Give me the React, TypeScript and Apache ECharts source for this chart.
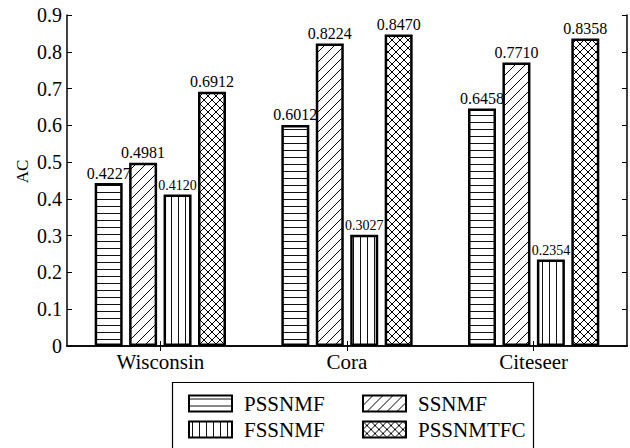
import React, { useEffect, useRef } from "react";
import * as echarts from "echarts";

const categories = ["Wisconsin", "Cora", "Citeseer"];
const seriesNames = ["PSSNMF", "SSNMF", "FSSNMF", "PSSNMTFC"];
// bar heights as drawn in the picture
const pssnmf = [0.443, 0.6012, 0.6458];
const ssnmf = [0.4981, 0.8224, 0.771];
const fssnmf = [0.412, 0.3027, 0.2354];
const pssnmtfc = [0.6912, 0.847, 0.8358];
// printed labels above bars
const pssnmfLabels = ["0.4227", "0.6012", "0.6458"];
const ssnmfLabels = ["0.4981", "0.8224", "0.7710"];
const fssnmfLabels = ["0.4120", "0.3027", "0.2354"];
const pssnmtfcLabels = ["0.6912", "0.8470", "0.8358"];
const yTicks = [0, 0.1, 0.2, 0.3, 0.4, 0.5, 0.6, 0.7, 0.8, 0.9];

const FONT = "'Liberation Serif', 'Times New Roman', serif";

function makePattern(kind: string): HTMLCanvasElement {
  const c = document.createElement("canvas");
  let w = 8, h = 8;
  if (kind === "h") { w = 8; h = 7; }
  if (kind === "v") { w = 7; h = 8; }
  if (kind === "d") { w = 10; h = 10; }
  if (kind === "x") { w = 8; h = 8; }
  c.width = w; c.height = h;
  const ctx = c.getContext("2d")!;
  ctx.fillStyle = "#fff";
  ctx.fillRect(0, 0, w, h);
  ctx.strokeStyle = "#000";
  ctx.fillStyle = "#111";
  if (kind === "h") {
    ctx.fillRect(0, 3, w, 1);
  } else if (kind === "v") {
    ctx.fillRect(3, 0, 1, h);
  } else if (kind === "d") {
    ctx.lineWidth = 1;
    ctx.beginPath();
    ctx.moveTo(-2, w + 2); ctx.lineTo(w + 2, -2);
    ctx.moveTo(-2, 2); ctx.lineTo(2, -2);
    ctx.moveTo(w - 2, w + 2); ctx.lineTo(w + 2, w - 2);
    ctx.stroke();
  } else {
    ctx.lineWidth = 1;
    ctx.beginPath();
    ctx.moveTo(-2, w + 2); ctx.lineTo(w + 2, -2);
    ctx.moveTo(-2, 2); ctx.lineTo(2, -2);
    ctx.moveTo(w - 2, w + 2); ctx.lineTo(w + 2, w - 2);
    ctx.moveTo(-2, -2); ctx.lineTo(w + 2, w + 2);
    ctx.moveTo(-2, w - 2); ctx.lineTo(2, w + 2);
    ctx.moveTo(w - 2, -2); ctx.lineTo(w + 2, 2);
    ctx.stroke();
  }
  return c;
}

export default function App() {
  const ref = useRef<HTMLDivElement>(null);
  useEffect(() => {
    document.body.style.margin = "0";
    const chart = echarts.init(ref.current!, undefined, { renderer: "svg" });
    const values = [pssnmf, ssnmf, fssnmf, pssnmtfc];
    const labels = [pssnmfLabels, ssnmfLabels, fssnmfLabels, pssnmtfcLabels];
    const kinds = ["h", "d", "v", "x"];
    const series = seriesNames.map((name, i) => ({
      name,
      type: "bar",
      barWidth: 28,
      barGap: "23%",
      data: values[i],
      itemStyle: {
        color: { image: makePattern(kinds[i]), repeat: "repeat" },
        borderColor: "#000",
        borderWidth: 2.5,
      },
      label: {
        show: true,
        position: "top",
        distance: 2,
        color: "#000",
        fontFamily: FONT,
        fontSize: i === 2 ? 14 : 16,
        formatter: (p: any) => labels[i][p.dataIndex],
      },
    }));
    const legendPos = [
      { left: 188, top: 393 },
      { left: 362, top: 393 },
      { left: 188, top: 419 },
      { left: 362, top: 419 },
    ];
    const legends = seriesNames.map((name, i) => ({
      data: [name],
      left: legendPos[i].left,
      top: legendPos[i].top,
      padding: 0,
      icon: "rect",
      itemWidth: 43,
      itemHeight: 16,
      selectedMode: false,
      textStyle: {
        fontFamily: FONT,
        fontSize: 21,
        color: "#000",
        padding: [0, 0, 0, 7],
      },
    }));
    const axisLine = { show: true, lineStyle: { color: "#000", width: 1.5 } };
    chart.setOption({
      animation: false,
      grid: { left: 67, right: 3, top: 15, bottom: 102, containLabel: false },
      xAxis: [
        {
          type: "category",
          data: categories,
          position: "bottom",
          axisLine,
          axisTick: { show: true, inside: true, alignWithLabel: true, length: 5, lineStyle: { color: "#000" } },
          axisLabel: { color: "#000", fontFamily: FONT, fontSize: 21, margin: 5 },
        },
        {
          type: "category",
          data: categories,
          position: "top",
          axisLine,
          axisTick: { show: true, inside: true, alignWithLabel: true, length: 5, lineStyle: { color: "#000" } },
          axisLabel: { show: false },
        },
      ],
      yAxis: [
        {
          type: "value",
          min: 0,
          max: 0.9,
          interval: 0.1,
          axisLine,
          splitLine: { show: false },
          axisTick: { show: true, inside: true, length: 5, lineStyle: { color: "#000" } },
          axisLabel: {
            color: "#000",
            fontFamily: FONT,
            fontSize: 20,
            margin: 5,
            formatter: (v: number) => {
              const t = yTicks.find((y) => Math.abs(y - v) < 1e-6);
              return String(t !== undefined ? t : v);
            },
          },
        },
        {
          type: "value",
          min: 0,
          max: 0.9,
          interval: 0.1,
          position: "right",
          axisLine,
          splitLine: { show: false },
          axisTick: { show: true, inside: true, length: 5, lineStyle: { color: "#000" } },
          axisLabel: { show: false },
        },
      ],
      legend: legends,
      series,
      graphic: [
        {
          type: "text",
          x: 22.5,
          y: 171.5,
          rotation: Math.PI / 2,
          style: {
            text: "AC",
            fontFamily: FONT,
            fontSize: 17,
            fill: "#000",
            textAlign: "center",
            textVerticalAlign: "middle",
          },
        },
        {
          type: "rect",
          shape: { x: 172.5, y: 382.5, width: 361, height: 90 },
          style: { fill: "none", stroke: "#000", lineWidth: 1.2 },
          silent: true,
        },
      ],
    });
    return () => chart.dispose();
  }, []);
  return <div ref={ref} style={{ width: 630, height: 448 }} />;
}
